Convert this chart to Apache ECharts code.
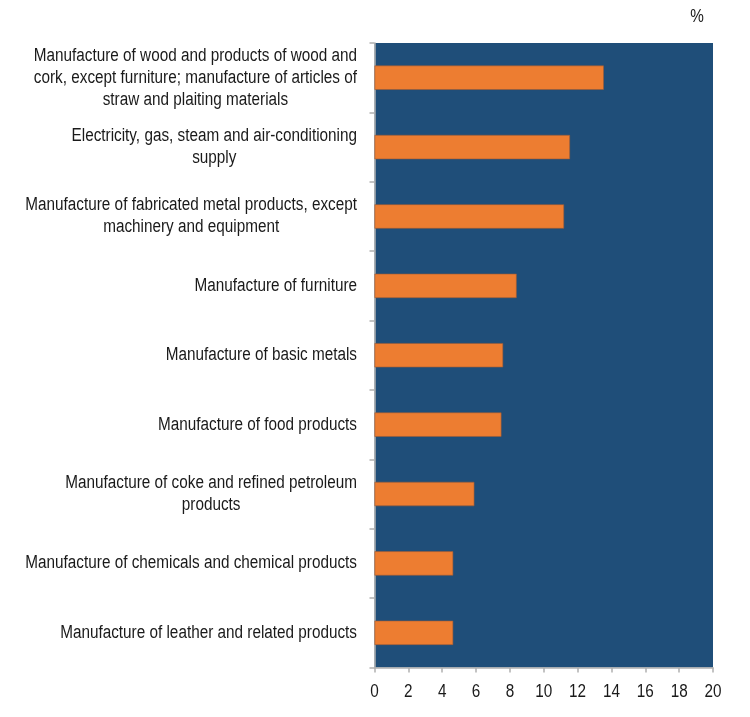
<!DOCTYPE html>
<html>
<head>
<meta charset="utf-8">
<script src="https://cdn.jsdelivr.net/npm/echarts@6/dist/echarts.min.js"></script>
<style>
  html, body { margin: 0; padding: 0; background: #ffffff; }
  #chart { width: 750px; height: 717px; }
</style>
</head>
<body>
<div id="chart"></div>
<script>
// Sectors, top to bottom
var categories = [
  'Manufacture of wood and products of wood and\ncork, except furniture; manufacture of articles of\nstraw and plaiting materials',
  'Electricity, gas, steam and air-conditioning\nsupply',
  'Manufacture of fabricated metal products, except\nmachinery and equipment',
  'Manufacture of furniture',
  'Manufacture of basic metals',
  'Manufacture of food products',
  'Manufacture of coke and refined petroleum\nproducts',
  'Manufacture of chemicals and chemical products',
  'Manufacture of leather and related products'
];
// Share, %
var values = [13.55, 11.55, 11.2, 8.4, 7.6, 7.5, 5.9, 4.65, 4.65];
var xTicks = [0, 2, 4, 6, 8, 10, 12, 14, 16, 18, 20];
var unitLabel = '%';

// Condensed look: a regular sans squeezed horizontally
var FONT = '"Liberation Sans", Arial, sans-serif';
var FSIZE = 18;
var SX = 0.85;
var TEXT_COLOR = '#1a1a1a';

var GRID = { left: 374.5, right: 37, top: 43, bottom: 49.5 };
var LABEL_GAP = 17.5;

var chart = echarts.init(document.getElementById('chart'), null, { renderer: 'canvas' });
chart.setOption({
  animation: false,
  backgroundColor: '#ffffff',
  grid: {
    left: GRID.left, right: GRID.right, top: GRID.top, bottom: GRID.bottom,
    outerBoundsMode: 'none', containLabel: false,
    show: true, backgroundColor: '#1F4E79', borderWidth: 0
  },
  xAxis: {
    type: 'value', min: xTicks[0], max: xTicks[xTicks.length - 1], interval: 2,
    axisLine: { show: true, lineStyle: { color: '#b0b0b0', width: 1.5 } },
    axisTick: { show: true, length: 5, lineStyle: { color: '#b0b0b0', width: 1.5 } },
    splitLine: { show: false },
    axisLabel: { show: false }
  },
  yAxis: {
    type: 'category', data: categories, inverse: true,
    axisLine: { show: true, lineStyle: { color: '#b0b0b0', width: 1.5 } },
    axisTick: { show: true, length: 5, lineStyle: { color: '#b0b0b0', width: 1.5 } },
    axisLabel: { show: false }
  },
  series: [{
    type: 'bar', data: values, barCategoryGap: '65%',
    itemStyle: { color: '#ED7D31', borderColor: '#9a5a38', borderWidth: 0.6 }
  }]
});

// Labels placed through the axes' own scales, drawn with a narrowed font
var ctx = document.createElement('canvas').getContext('2d');
ctx.font = FSIZE + 'px ' + FONT;
var labelRight = GRID.left - LABEL_GAP;
var H = chart.getHeight();
var W = chart.getWidth();

var texts = [];
categories.forEach(function (c, i) {
  var w = 0;
  c.split('\n').forEach(function (ln) { w = Math.max(w, ctx.measureText(ln).width); });
  var y = chart.convertToPixel({ yAxisIndex: 0 }, i);
  texts.push({
    type: 'text', x: labelRight - w * SX / 2, y: y, scaleX: SX, silent: true,
    style: {
      text: c, align: 'center', verticalAlign: 'middle',
      fontSize: FSIZE, fontFamily: FONT, lineHeight: 22, fill: TEXT_COLOR
    }
  });
});
xTicks.forEach(function (t) {
  var x = chart.convertToPixel({ xAxisIndex: 0 }, t);
  texts.push({
    type: 'text', x: x, y: H - GRID.bottom + 24.5, scaleX: SX, silent: true,
    style: {
      text: String(t), align: 'center', verticalAlign: 'middle',
      fontSize: FSIZE, fontFamily: FONT, fill: TEXT_COLOR
    }
  });
});
texts.push({
  type: 'text', x: W - 53, y: 17, scaleX: SX, silent: true,
  style: {
    text: unitLabel, align: 'center', verticalAlign: 'middle',
    fontSize: FSIZE, fontFamily: FONT, fill: TEXT_COLOR
  }
});
chart.setOption({ graphic: texts });
</script>
</body>
</html>
